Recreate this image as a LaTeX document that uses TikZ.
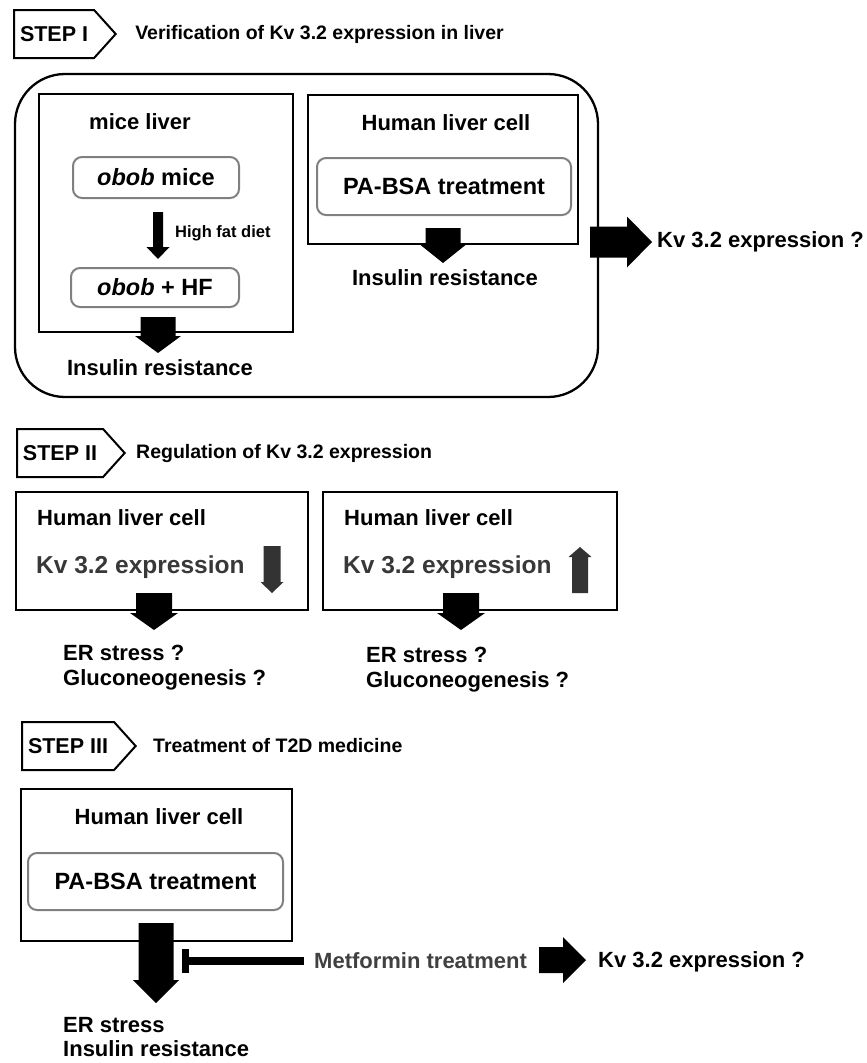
\documentclass[tikz,border=0pt]{standalone}
\usepackage{fontspec}
\setmainfont{Liberation Sans}
\usetikzlibrary{positioning,calc,shapes.symbols}

% block arrows: colour, start, tip, half shaft, half head, head length
\newcommand{\vblock}[6][black]{%
  \fill[#1] let \p1=(#2), \p2=(#3), \p3=($(#3)!#6pt!(#2)$) in
    (\x1-#4pt,\y1) -- (\x1+#4pt,\y1) -- (\x1+#4pt,\y3) -- (\x1+#5pt,\y3)
    -- (\x1,\y2) -- (\x1-#5pt,\y3) -- (\x1-#4pt,\y3) -- cycle;}
\newcommand{\hblock}[6][black]{%
  \fill[#1] let \p1=(#2), \p2=(#3), \p3=($(#3)!#6pt!(#2)$) in
    (\x1,\y1-#4pt) -- (\x3,\y1-#4pt) -- (\x3,\y1-#5pt) -- (\x2,\y1)
    -- (\x3,\y1+#5pt) -- (\x3,\y1+#4pt) -- (\x1,\y1+#4pt) -- cycle;}

\begin{document}
\begin{tikzpicture}[
  x=1pt, y=-1pt,
  steptag/.style  ={signal, signal to=east, draw, line width=2pt, signal pointer angle=96,
                    minimum height=48pt, inner xsep=6pt, font=\bfseries\fontsize{21.5}{24}\selectfont},
  steptitle/.style={inner sep=0pt, font=\bfseries\fontsize{19.5}{22}\selectfont},
  stepframe/.style={draw, line width=2.3pt, rounded corners=50pt},
  cellbox/.style  ={draw, line width=2pt},
  treat/.style    ={draw=black!50, line width=2pt, rounded corners=9pt,
                    font=\bfseries\fontsize{23.5}{27}\selectfont},
  lbl/.style      ={inner sep=0pt, font=\bfseries\fontsize{22}{25}\selectfont},
  kvlbl/.style    ={inner sep=0pt, text=black!78, font=\bfseries\fontsize{24.5}{28}\selectfont}
]
\useasboundingbox (0,0) rectangle (867,1063);

% --- STEP I ---
\node[steptag, anchor=west]       (tag1)   at (13,34) {STEP I};
\node[steptitle, right=18pt of tag1] (title1) {Verification of Kv 3.2 expression in liver};
\node[stepframe, minimum width=583pt, minimum height=323pt] (frame1) at (306.5,235.5) {};

\node[cellbox, minimum width=254pt, minimum height=238pt] (mice) at (166,213) {};
\node[lbl] (micehead) at (140,122) {mice liver};
\node[treat, minimum width=166pt, minimum height=41pt] (obob)   at (156,177.5) {\textit{obob} mice};
\node[treat, minimum width=168pt, minimum height=39pt] (obobhf) at (155,287.5) {\textit{obob} + HF};
\coordinate (hfdtop) at (158,212);
\coordinate (hfdtip) at (158,259);
\vblock{hfdtop}{hfdtip}{5}{11.5}{12}
\node[lbl, font=\bfseries\fontsize{16.5}{19}\selectfont, anchor=west] (hfd) at (175,233) {High fat diet};
\coordinate (ir1top) at (158,317);
\coordinate (ir1tip) at (158,353);
\vblock{ir1top}{ir1tip}{17.5}{23}{17}
\node[lbl] (ir1) at (160,368) {Insulin resistance};

\node[cellbox, minimum width=270pt, minimum height=149pt] (human1) at (443,169.5) {};
\node[lbl] (human1head) at (446,123) {Human liver cell};
\node[treat, minimum width=254pt, minimum height=57pt] (pabsa1) at (444,186.5) {PA-BSA treatment};
\coordinate (ir2top) at (443,228);
\coordinate (ir2tip) at (443,263);
\vblock{ir2top}{ir2tip}{17.5}{22.5}{18}
\node[lbl] (ir2) at (445,278) {Insulin resistance};

\coordinate (kv1start) at (590,242);
\coordinate (kv1tip)   at (652,242);
\hblock{kv1start}{kv1tip}{15.5}{25.5}{25}
\node[lbl, anchor=west] (kv1) at (657,242) {Kv 3.2 expression ?};

% --- STEP II ---
\node[steptag, anchor=west]       (tag2)   at (16,453) {STEP II};
\node[steptitle, right=10pt of tag2] (title2) {Regulation of Kv 3.2 expression};

\node[cellbox, minimum width=292pt, minimum height=118pt] (lower) at (162,551) {};
\node[lbl, anchor=west]   (lowerhead) at (37,518) {Human liver cell};
\node[kvlbl, anchor=west] (lowerkv)   at (36,567) {Kv 3.2 expression};
\coordinate (dnbot) at (272,546);
\coordinate (dntip) at (272,593);
\vblock[black!80]{dnbot}{dntip}{8.5}{11.5}{11}
\coordinate (out4top) at (154,593);
\coordinate (out4tip) at (154,630);
\vblock{out4top}{out4tip}{18}{24}{17}
\node[lbl, align=left, anchor=west] (out4) at (63,667.5) {ER stress ?\\Gluconeogenesis ?};

\node[cellbox, minimum width=294pt, minimum height=118pt] (raise) at (470,551) {};
\node[lbl, anchor=west]   (raisehead) at (344,518) {Human liver cell};
\node[kvlbl, anchor=west] (raisekv)   at (343,567) {Kv 3.2 expression};
\coordinate (upbot) at (580,593);
\coordinate (uptip) at (580,547);
\vblock[black!80]{upbot}{uptip}{8}{11.5}{10}
\coordinate (out5top) at (461,593);
\coordinate (out5tip) at (461,630);
\vblock{out5top}{out5tip}{18}{24}{17}
\node[lbl, align=left, anchor=west] (out5) at (366,670) {ER stress ?\\Gluconeogenesis ?};

% --- STEP III ---
\node[steptag, anchor=west]       (tag3)   at (21,746) {STEP III};
\node[steptitle, right=16pt of tag3] (title3) {Treatment of T2D medicine};

\node[cellbox, minimum width=271pt, minimum height=152pt] (human3) at (156.5,865) {};
\node[lbl] (human3head) at (159,817) {Human liver cell};
\node[treat, minimum width=255pt, minimum height=57pt] (pabsa3) at (155.5,881.5) {PA-BSA treatment};
\coordinate (out6top) at (156,923);
\coordinate (out6tip) at (156,1003);
\vblock{out6top}{out6tip}{17.5}{23}{23}
\node[lbl, align=left, anchor=west, font=\bfseries\fontsize{22}{24}\selectfont] (out6) at (63,1037) {ER stress\\Insulin resistance};

\node[lbl, text=black!75, anchor=west] (metf) at (314,961) {Metformin treatment};
\coordinate (block) at (189,961);
\draw[line width=8pt, shorten <=10pt] (metf.west) -- (block);
\fill (block) ++(-7,-12) rectangle ++(7,24);
\coordinate (kv3start) at (539,960);
\coordinate (kv3tip)   at (586,960);
\hblock{kv3start}{kv3tip}{13}{23}{23}
\node[lbl, anchor=west] (kv3) at (598,962) {Kv 3.2 expression ?};

\end{tikzpicture}
\end{document}
